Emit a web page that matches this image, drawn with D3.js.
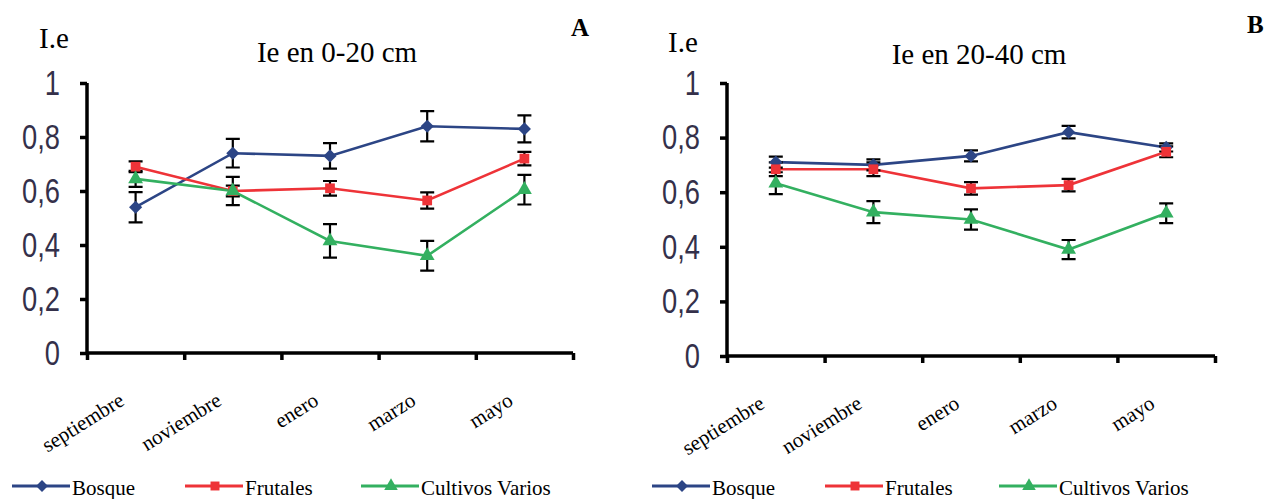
<!DOCTYPE html>
<html>
<head>
<meta charset="utf-8">
<script src="https://cdn.jsdelivr.net/npm/d3@7"></script>
<style>
  body { margin: 0; background: #fff; }
  svg { display: block; }
</style>
</head>
<body>
<div id="chart"></div>
<script>
// Months on the x axis
const months = ["septiembre", "noviembre", "enero", "marzo", "mayo"];
const seriesNames = ["Bosque", "Frutales", "Cultivos Varios"];
const yTicks = [0, 0.2, 0.4, 0.6, 0.8, 1];

// Panel A: 0-20 cm
const bosqueA = [0.54, 0.74, 0.73, 0.84, 0.83];
const frutalesA = [0.69, 0.60, 0.61, 0.565, 0.72];
const cultivosA = [0.645, 0.60, 0.415, 0.36, 0.605];
const bosqueErrA = [0.056, 0.053, 0.047, 0.056, 0.05];
const frutalesErrA = [0.02, 0.02, 0.027, 0.03, 0.025];
const cultivosErrA = [0.03, 0.052, 0.062, 0.055, 0.055];

// Panel B: 20-40 cm
const bosqueB = [0.71, 0.70, 0.733, 0.82, 0.764];
const frutalesB = [0.684, 0.684, 0.614, 0.626, 0.748];
const cultivosB = [0.633, 0.527, 0.50, 0.39, 0.523];
const bosqueErrB = [0.02, 0.02, 0.02, 0.023, 0.015];
const frutalesErrB = [0.025, 0.025, 0.023, 0.023, 0.02];
const cultivosErrB = [0.04, 0.04, 0.037, 0.035, 0.036];

const colors = ["#2c4585", "#ee3338", "#33b060"];
const symbols = [d3.symbolDiamond2, d3.symbolSquare, d3.symbolTriangle];
const serif = "'Liberation Serif', 'Times New Roman', 'DejaVu Serif', serif";

const W = 1264, H = 499;
const svg = d3.select("#chart").append("svg")
    .attr("width", W)
    .attr("height", H);

const locale = d3.formatLocale({decimal: ",", thousands: ".", grouping: [3], currency: ["", ""]});
const fmt = locale.format("~g");

function drawPanel(p) {
  const x = d3.scaleBand().domain(months).range([p.x0, p.x1]);
  const y = d3.scaleLinear().domain([0, 1]).range([p.y0, p.y1]);
  const edges = d3.scaleLinear().domain([0, months.length]).range([p.x0, p.x1]);

  const g = svg.append("g");

  // y axis
  const yAxis = g.append("g")
      .attr("transform", `translate(${p.x0},0)`)
      .call(d3.axisLeft(y).tickValues(yTicks).tickSize(7).tickFormat(fmt));
  yAxis.select(".domain").attr("stroke", "#000").attr("stroke-width", 3.5)
      .attr("d", `M0,${y(1)}V${y(0)}`);
  yAxis.selectAll(".tick line").attr("stroke", "#000").attr("stroke-width", 3.5);
  yAxis.selectAll(".tick text")
      .attr("x", -27 / 0.78)
      .attr("dy", "0.32em")
      .attr("transform", "scale(0.78,1)")
      .style("font-family", "'Liberation Sans', Arial, sans-serif")
      .style("font-size", "35px")
      .attr("fill", "#34304a");

  // x axis, ticks at the band edges
  const xAxis = g.append("g")
      .attr("transform", `translate(0,${p.y0})`)
      .call(d3.axisBottom(edges).tickValues(d3.range(months.length + 1)).tickSize(7).tickFormat(""));
  xAxis.select(".domain").attr("stroke", "#000").attr("stroke-width", 3.5)
      .attr("d", `M${p.x0},0H${p.x1}`);
  xAxis.selectAll(".tick line").attr("stroke", "#000").attr("stroke-width", 3.5);

  g.selectAll(".mlabel")
      .data(months)
    .enter().append("text")
      .attr("class", "mlabel")
      .attr("transform", d => `translate(${x(d) + x.bandwidth() / 2 - 10},${p.y0 + 51}) rotate(-32)`)
      .attr("text-anchor", "end")
      .style("font-family", serif)
      .style("font-size", "21px")
      .text(d => d);

  const line = d3.line()
      .x((d, i) => x(months[i]) + x.bandwidth() / 2)
      .y(d => y(d));

  p.series.forEach((vals, s) => {
    g.append("path")
        .datum(vals)
        .attr("fill", "none")
        .attr("stroke", colors[s])
        .attr("stroke-width", 2.6)
        .attr("d", line);
  });

  // error bars
  p.series.forEach((vals, s) => {
    const errs = p.errors[s];
    const eb = g.append("g");
    vals.forEach((v, i) => {
      const cx = x(months[i]) + x.bandwidth() / 2;
      const top = y(v + errs[i]), bot = y(v - errs[i]);
      eb.append("path")
          .attr("d", `M${cx},${top}V${bot}M${cx - 7},${top}H${cx + 7}M${cx - 7},${bot}H${cx + 7}`)
          .attr("stroke", "#000")
          .attr("stroke-width", 2.2)
          .attr("fill", "none");
    });
  });

  // markers
  p.series.forEach((vals, s) => {
    g.selectAll(null)
        .data(vals)
      .enter().append("path")
        .attr("transform", (d, i) => `translate(${x(months[i]) + x.bandwidth() / 2},${y(d)})`)
        .attr("d", d3.symbol().type(symbols[s]).size(s === 0 ? 110 : 95))
        .attr("fill", colors[s]);
  });

  // texts
  g.append("text").attr("x", p.ieX).attr("y", p.ieY)
      .style("font-family", serif)
      .style("font-size", "29px").text("I.e");
  g.append("text").attr("x", p.titleX).attr("y", p.titleY)
      .attr("text-anchor", "middle")
      .style("font-family", serif)
      .style("font-size", "29px").text(p.title);
  g.append("text").attr("x", p.letterX).attr("y", p.letterY)
      .style("font-family", serif)
      .style("font-size", "25px").style("font-weight", "bold").text(p.letter);

  // legend
  const leg = g.append("g");
  seriesNames.forEach((name, s) => {
    const lx = p.legX[s];
    leg.append("line")
        .attr("x1", lx).attr("x2", lx + 58)
        .attr("y1", 486).attr("y2", 486)
        .attr("stroke", colors[s]).attr("stroke-width", 3);
    leg.append("path")
        .attr("transform", `translate(${lx + 30},486)`)
        .attr("d", d3.symbol().type(symbols[s]).size(s === 0 ? 90 : 80))
        .attr("fill", colors[s]);
    leg.append("text")
        .attr("x", lx + 60).attr("y", 495)
        .style("font-family", serif)
        .style("font-size", "21px")
        .text(name);
  });
}

drawPanel({
  x0: 87, x1: 573, y0: 353, y1: 83,
  series: [bosqueA, frutalesA, cultivosA],
  errors: [bosqueErrA, frutalesErrA, cultivosErrA],
  title: "Ie en 0-20 cm", titleX: 337, titleY: 62,
  ieX: 39, ieY: 48, letter: "A", letterX: 571, letterY: 36,
  legX: [12, 185, 361]
});

drawPanel({
  x0: 727, x1: 1215, y0: 356, y1: 83,
  series: [bosqueB, frutalesB, cultivosB],
  errors: [bosqueErrB, frutalesErrB, cultivosErrB],
  title: "Ie en 20-40 cm", titleX: 979, titleY: 64,
  ieX: 668, ieY: 52, letter: "B", letterX: 1247, letterY: 33,
  legX: [652, 825, 999]
});
</script>
</body>
</html>
